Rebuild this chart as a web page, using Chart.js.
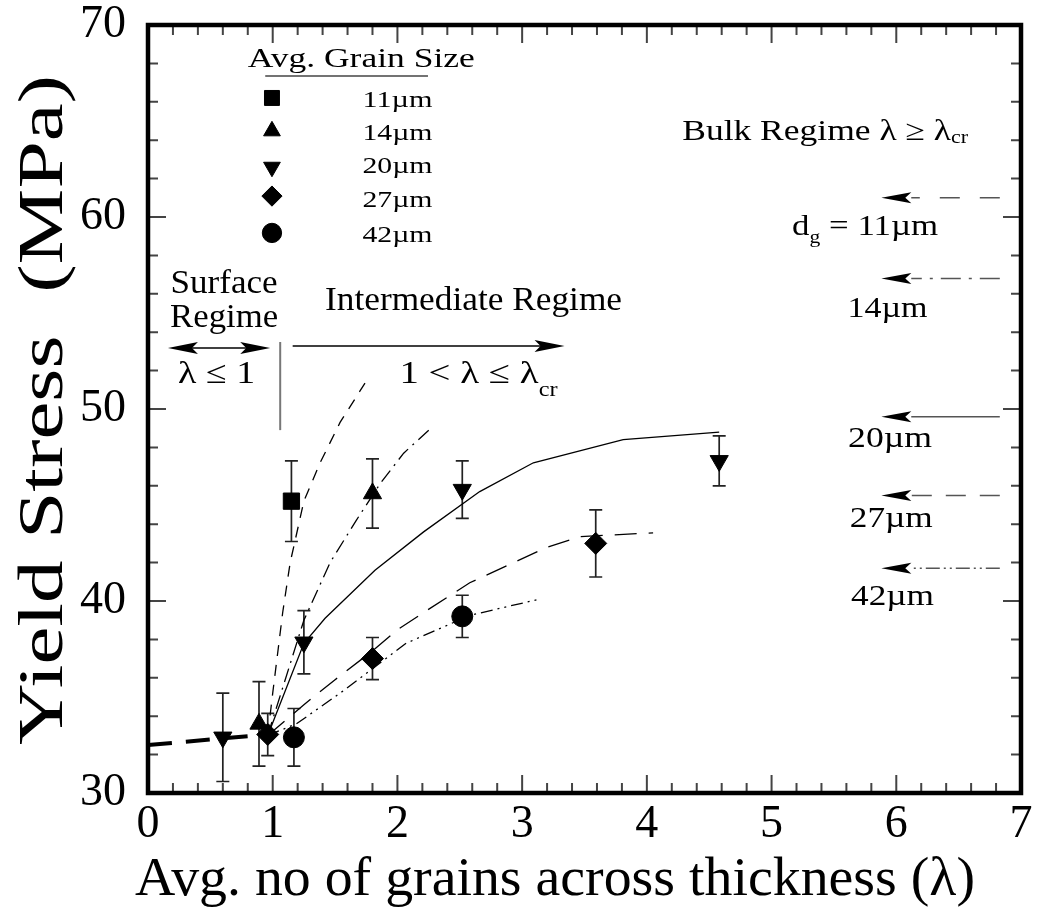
<!DOCTYPE html>
<html>
<head>
<meta charset="utf-8">
<script src="https://cdn.jsdelivr.net/npm/chart.js@4.4.1/dist/chart.umd.min.js"></script>
<style>
  html, body { margin: 0; padding: 0; background: #fff; }
  #wrap { width: 1037px; height: 916px; }
</style>
</head>
<body>
<div id="wrap"><canvas id="yieldChart" width="1037" height="916"></canvas></div>
<script>
var SERIF = "'Liberation Serif', 'DejaVu Serif', serif";

var grainSizes = ["11\u00b5m", "14\u00b5m", "20\u00b5m", "27\u00b5m", "42\u00b5m"];

// measured yield stress (MPa) vs avg. grains across thickness, with error half-widths
var lam11 = [1.15];
var ys11 = [45.2];
var err11 = [2.1];

var lam14 = [0.89, 1.80];
var ys14 = [33.6, 45.6];
var err14 = [2.2, 1.8];

var lam20 = [0.60, 1.25, 2.52, 4.58];
var ys20 = [32.9, 37.85, 45.8, 47.3];
var err20 = [2.3, 1.65, 1.5, 1.3];

var lam27 = [0.96, 1.80, 3.59];
var ys27 = [33.05, 37.0, 43.0];
var err27 = [1.1, 1.1, 1.75];

var lam42 = [1.17, 2.52];
var ys42 = [32.9, 39.2];
var err42 = [1.5, 1.1];

// model curves
var fitLam11 = [0.96, 1.0, 1.08, 1.14, 1.25, 1.38, 1.54, 1.74];
var fitYs11 = [33.0, 35.2, 39.4, 42.0, 45.2, 47.2, 49.3, 51.35];

var fitLam14 = [0.96, 1.25, 1.46, 1.67, 1.86, 2.05, 2.26];
var fitYs14 = [33.0, 39.0, 42.0, 44.2, 46.1, 47.7, 48.95];

var fitLam20 = [0.96, 1.25, 1.42, 1.82, 2.21, 2.66, 3.09, 3.81, 4.58];
var fitYs20 = [33.0, 37.8, 39.1, 41.6, 43.6, 45.7, 47.2, 48.4, 48.8];

var fitLam27 = [0.96, 1.25, 1.5, 1.8, 2.0, 2.21, 2.58, 3.2, 3.46, 4.05];
var fitYs27 = [33.0, 34.6, 35.9, 37.4, 38.5, 39.4, 40.95, 42.8, 43.35, 43.55];

var fitLam42 = [0.96, 1.19, 1.54, 2.07, 2.58, 3.14];
var fitYs42 = [33.0, 33.6, 35.2, 37.8, 39.25, 40.1];

// surface regime trend
var surfLam = [0, 0.96];
var surfYs = [32.5, 33.05];

// bulk yield stress for each grain size
var bulkStress = [61.0, 56.8, 49.6, 45.5, 41.7];

var xTicks = [0, 1, 2, 3, 4, 5, 6, 7];
var yTicks = [30, 40, 50, 60, 70];

var markerStyles = [
    { pointStyle: 'rect', radius: 11.5, rotation: 0 },
    { pointStyle: 'triangle', radius: 10.5, rotation: 0 },
    { pointStyle: 'triangle', radius: 10.5, rotation: 180 },
    { pointStyle: 'rectRot', radius: 11, rotation: 0 },
    { pointStyle: 'circle', radius: 10.5, rotation: 0 }
];
var fitDashes = [[11, 9], [14, 6, 2, 6], [], [22, 12], [12, 5, 2, 5, 2, 5]];
var bulkDashes = [[20, 20], [20, 8, 3, 8], [], [20, 14], [14, 4, 2, 4, 2, 4]];

function pts(xs, ys) {
    return xs.map(function(x, i) { return { x: x, y: ys[i] }; });
}

function markerSet(i, xs, ys, errs) {
    var s = markerStyles[i];
    return {
        label: grainSizes[i],
        data: pts(xs, ys),
        err: errs,
        showLine: false,
        pointStyle: s.pointStyle,
        pointRadius: s.radius,
        rotation: s.rotation,
        backgroundColor: '#000',
        borderColor: '#000',
        borderWidth: 1
    };
}

function fitSet(i, xs, ys) {
    return {
        label: grainSizes[i] + ' fit',
        data: pts(xs, ys),
        showLine: true,
        pointRadius: 0,
        borderColor: '#000',
        borderWidth: 1.3,
        borderDash: fitDashes[i],
        tension: 0
    };
}

// text helper: parts are [text, isSubscript]; drawn from a baseline, stretched to a width
function drawRich(ctx, parts, cx, baseY, size, width, subDrop) {
    ctx.save();
    var total = 0;
    parts.forEach(function(p) {
        ctx.font = (p[1] ? Math.round(size * 0.62) : size) + 'px ' + SERIF;
        total += ctx.measureText(p[0]).width;
    });
    var sx = width ? width / total : 1;
    ctx.translate(cx - total * sx / 2, baseY);
    ctx.scale(sx, 1);
    ctx.fillStyle = '#000';
    ctx.textAlign = 'left';
    ctx.textBaseline = 'alphabetic';
    var cur = 0;
    parts.forEach(function(p) {
        ctx.font = (p[1] ? Math.round(size * 0.62) : size) + 'px ' + SERIF;
        ctx.fillText(p[0], cur, p[1] ? subDrop : 0);
        cur += ctx.measureText(p[0]).width;
    });
    ctx.restore();
}

function arrowHead(ctx, tipX, tipY, dir, len, half) {
    ctx.beginPath();
    ctx.moveTo(tipX, tipY);
    ctx.lineTo(tipX - dir * len, tipY - half);
    ctx.lineTo(tipX - dir * len * 0.8, tipY);
    ctx.lineTo(tipX - dir * len, tipY + half);
    ctx.closePath();
    ctx.fill();
}

var errorBars = {
    id: 'errorBars',
    beforeDatasetsDraw: function(chart) {
        var ctx = chart.ctx;
        var xs = chart.scales.x, ys = chart.scales.y;
        ctx.save();
        ctx.strokeStyle = '#222';
        ctx.lineWidth = 1.7;
        chart.data.datasets.forEach(function(ds) {
            if (!ds.err) return;
            ds.data.forEach(function(p, i) {
                var x = xs.getPixelForValue(p.x);
                var top = ys.getPixelForValue(p.y + ds.err[i]);
                var bot = ys.getPixelForValue(p.y - ds.err[i]);
                ctx.beginPath();
                ctx.moveTo(x, top); ctx.lineTo(x, bot);
                ctx.moveTo(x - 6.5, top); ctx.lineTo(x + 6.5, top);
                ctx.moveTo(x - 6.5, bot); ctx.lineTo(x + 6.5, bot);
                ctx.stroke();
            });
        });
        ctx.restore();
    }
};

var frameAndNotes = {
    id: 'frameAndNotes',
    afterDraw: function(chart) {
        var ctx = chart.ctx;
        var a = chart.chartArea;
        var sx = chart.scales.x, sy = chart.scales.y;
        function px(v) { return sx.getPixelForValue(v); }
        function py(v) { return sy.getPixelForValue(v); }

        ctx.save();

        // inward ticks on all four sides
        ctx.strokeStyle = '#444';
        ctx.lineWidth = 2;
        ctx.beginPath();
        for (var t = 0; t <= 35; t++) {
            var x = px(t * 0.2);
            var len = t % 5 === 0 ? 18 : 10;
            ctx.moveTo(x, a.bottom); ctx.lineTo(x, a.bottom - len);
            ctx.moveTo(x, a.top); ctx.lineTo(x, a.top + len);
        }
        for (var u = 0; u <= 20; u++) {
            var y = py(30 + u * 2);
            var ylen = u % 5 === 0 ? 18 : 10;
            ctx.moveTo(a.left, y); ctx.lineTo(a.left + ylen, y);
            ctx.moveTo(a.right, y); ctx.lineTo(a.right - ylen, y);
        }
        ctx.stroke();

        // frame
        ctx.strokeStyle = '#000';
        ctx.lineWidth = 4.5;
        ctx.strokeRect(a.left, a.top, a.right - a.left, a.bottom - a.top);

        // axis titles
        drawRich(ctx, [['Avg. no of grains across thickness (\u03bb)', 0]], 555, 895, 55, 840, 0);
        ctx.save();
        ctx.translate(62, 410);
        ctx.rotate(-Math.PI / 2);
        drawRich(ctx, [['Yield Stress  (MPa)', 0]], 0, 0, 64, 670, 0);
        ctx.restore();

        // legend
        drawRich(ctx, [['Avg. Grain Size', 0]], px(1.71), py(67.81), 28, 227, 0);
        ctx.strokeStyle = '#444';
        ctx.lineWidth = 1.5;
        ctx.beginPath();
        ctx.moveTo(px(0.94), py(67.34)); ctx.lineTo(px(2.245), py(67.34));
        ctx.stroke();
        var legMarkY = [66.2, 64.48, 62.6, 61.09, 59.17];
        var legTextY = [65.73, 64.01, 62.29, 60.52, 58.7];
        ctx.fillStyle = '#000';
        ctx.strokeStyle = '#000';
        ctx.lineWidth = 1;
        for (var k = 0; k < grainSizes.length; k++) {
            var ms = markerStyles[k];
            Chart.helpers.drawPoint(ctx, {
                pointStyle: ms.pointStyle,
                radius: ms.radius * 0.92,
                rotation: ms.rotation,
                borderWidth: 1
            }, px(0.994), py(legMarkY[k]));
            drawRich(ctx, [[grainSizes[k], 0]], px(2.0), py(legTextY[k]), 23, 70, 0);
        }

        // bulk stress arrows
        for (var b = 0; b < bulkStress.length; b++) {
            var by = py(bulkStress[b]);
            ctx.strokeStyle = '#555';
            ctx.lineWidth = 1.5;
            ctx.setLineDash(bulkDashes[b]);
            ctx.beginPath();
            ctx.moveTo(px(6.83), by); ctx.lineTo(px(6.12), by);
            ctx.stroke();
            ctx.setLineDash([]);
            ctx.fillStyle = '#000';
            arrowHead(ctx, px(5.88), by, -1, 30, 5.5);
        }

        drawRich(ctx, [['Bulk Regime \u03bb \u2265 \u03bb', 0], ['cr', 1]], px(5.43), py(64.01), 29, 286, 3);
        drawRich(ctx, [['d', 0], ['g', 1], [' = 11\u00b5m', 0]], px(5.75), py(59.06), 29, 146, 8);
        drawRich(ctx, [[grainSizes[1], 0]], px(5.93), py(54.79), 30, 80, 0);
        drawRich(ctx, [[grainSizes[2], 0]], px(5.95), py(48.02), 30, 84, 0);
        drawRich(ctx, [[grainSizes[3], 0]], px(5.96), py(43.85), 30, 83, 0);
        drawRich(ctx, [[grainSizes[4], 0]], px(5.97), py(39.79), 30, 83, 0);

        // regime markers
        drawRich(ctx, [['Surface', 0]], px(0.61), py(56.04), 34, 107, 0);
        drawRich(ctx, [['Regime', 0]], px(0.61), py(54.27), 34, 108, 0);
        drawRich(ctx, [['Intermediate Regime', 0]], px(2.61), py(55.16), 33, 297, 0);
        drawRich(ctx, [['\u03bb \u2264 1', 0]], px(0.55), py(51.35), 32, 77, 0);
        drawRich(ctx, [['1 < \u03bb \u2264 \u03bb', 0], ['cr', 1]], px(2.65), py(51.35), 32, 158, 13);

        ctx.fillStyle = '#000';
        ctx.strokeStyle = '#000';
        ctx.lineWidth = 1.5;
        var ay = py(53.18);
        ctx.beginPath();
        ctx.moveTo(px(0.16) + 20, ay); ctx.lineTo(px(0.98) - 20, ay);
        ctx.stroke();
        arrowHead(ctx, px(0.16), ay, -1, 30, 6);
        arrowHead(ctx, px(0.98), ay, 1, 30, 6);

        var ry = py(53.28);
        ctx.beginPath();
        ctx.moveTo(px(1.16), ry); ctx.lineTo(px(3.34) - 20, ry);
        ctx.stroke();
        arrowHead(ctx, px(3.34), ry, 1, 30, 6);

        ctx.strokeStyle = '#777';
        ctx.lineWidth = 2;
        ctx.beginPath();
        ctx.moveTo(px(1.06), py(53.49)); ctx.lineTo(px(1.06), py(48.9));
        ctx.stroke();

        ctx.restore();
    }
};

var datasets = [
    markerSet(0, lam11, ys11, err11),
    markerSet(1, lam14, ys14, err14),
    markerSet(2, lam20, ys20, err20),
    markerSet(3, lam27, ys27, err27),
    markerSet(4, lam42, ys42, err42),
    fitSet(0, fitLam11, fitYs11),
    fitSet(1, fitLam14, fitYs14),
    fitSet(2, fitLam20, fitYs20),
    fitSet(3, fitLam27, fitYs27),
    fitSet(4, fitLam42, fitYs42),
    {
        label: 'surface',
        data: pts(surfLam, surfYs),
        showLine: true,
        pointRadius: 0,
        borderColor: '#000',
        borderWidth: 4,
        borderDash: [24, 14],
        borderCapStyle: 'butt'
    }
];

var chart = new Chart(document.getElementById('yieldChart'), {
    type: 'scatter',
    data: { datasets: datasets },
    options: {
        responsive: false,
        animation: false,
        layout: { padding: { top: 25, right: 16, left: 0, bottom: 0 } },
        plugins: { legend: { display: false }, tooltip: { enabled: false } },
        scales: {
            x: {
                type: 'linear',
                min: xTicks[0],
                max: xTicks[xTicks.length - 1],
                grid: { display: false, drawTicks: false },
                border: { display: false },
                afterBuildTicks: function(s) { s.ticks = xTicks.map(function(v) { return { value: v }; }); },
                ticks: {
                    color: '#000',
                    padding: 9,
                    maxRotation: 0,
                    font: { family: SERIF, size: 46, lineHeight: 1 }
                },
                afterFit: function(s) {
                    s.height = 123;
                    s.paddingLeft = 0;
                    s.paddingRight = 0;
                }
            },
            y: {
                type: 'linear',
                min: yTicks[0],
                max: yTicks[yTicks.length - 1],
                grid: { display: false, drawTicks: false },
                border: { display: false },
                afterBuildTicks: function(s) { s.ticks = yTicks.map(function(v) { return { value: v }; }); },
                ticks: {
                    color: '#000',
                    padding: 22,
                    font: { family: SERIF, size: 46, lineHeight: 1 }
                },
                afterFit: function(s) {
                    s.width = 148;
                    s.paddingTop = 0;
                    s.paddingBottom = 0;
                }
            }
        }
    },
    plugins: [errorBars, frameAndNotes]
});
</script>
</body>
</html>
